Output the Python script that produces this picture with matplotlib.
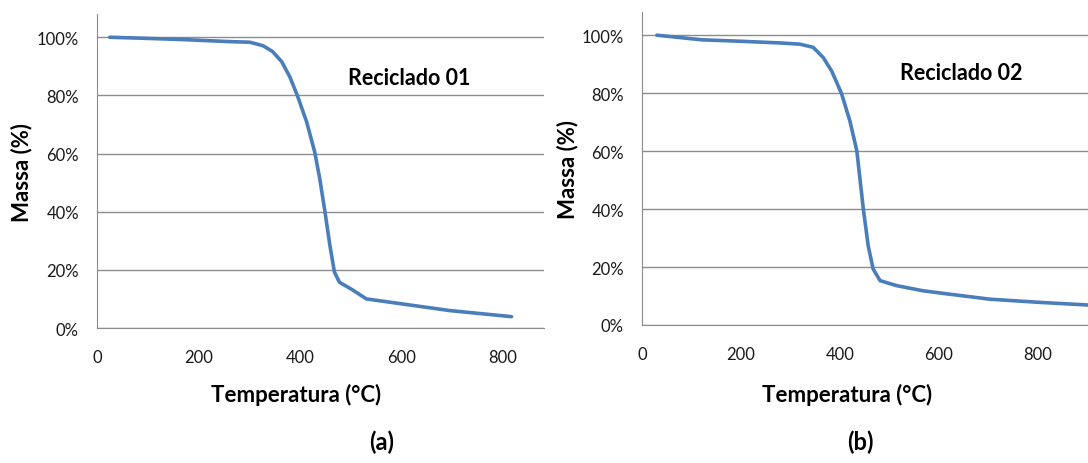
import matplotlib.pyplot as plt
from matplotlib.ticker import PercentFormatter

# curva TG - Reciclado 01
temp_01 = [25, 84, 170, 261, 301, 327, 346, 364, 380, 395, 413, 429, 439, 449, 459, 468, 478,
           501, 531, 564, 613, 695, 817]
massa_01 = [100, 99.7, 99.2, 98.5, 98.3, 97.1, 95.1, 91.6, 86.4, 79.9, 71, 60.6, 51.4, 40.3, 28.4,
            19.2, 15.7, 13.4, 10, 9.2, 8, 6, 3.9]

# curva TG - Reciclado 02
temp_02 = [30, 121, 200, 282, 319, 346, 366, 383, 403, 420, 434, 447, 457, 467, 481, 514, 568,
           618, 703, 804, 901]
massa_02 = [100, 98.4, 97.9, 97.3, 96.9, 95.8, 92.3, 87.7, 79.9, 70.4, 60.1, 40.2, 27.3, 19.3,
            15.3, 13.6, 11.8, 10.7, 8.9, 7.8, 6.9]

x_ticks = [0, 200, 400, 600, 800]
y_ticks = [0, 20, 40, 60, 80, 100]

plt.rcParams['font.family'] = ['Lato', 'DejaVu Sans']

fig = plt.figure(figsize=(10.88, 4.64), dpi=100)
W, H = 1088, 464


def painel(left, right, top, bottom, xmax, temp, massa, nome, nome_xy, ylab_x, xlab_xy, letra, letra_xy):
    ax = fig.add_axes([left / W, 1 - bottom / H, (right - left) / W, (bottom - top) / H])
    ax.plot(temp, massa, color='#4A7EBB', linewidth=2.6, solid_capstyle='round', solid_joinstyle='round')
    ax.set_xlim(0, xmax)
    ax.set_ylim(0, 108)
    ax.set_xticks(x_ticks)
    ax.set_yticks(y_ticks)
    ax.yaxis.set_major_formatter(PercentFormatter(decimals=0))
    ax.grid(axis='y', color='#8c8c8c', linewidth=1.0)
    ax.set_axisbelow(True)
    for s in ['top', 'right']:
        ax.spines[s].set_visible(False)
    ax.spines['left'].set_color('#8c8c8c')
    ax.spines['bottom'].set_color('#8c8c8c')
    ax.tick_params(length=0, labelsize=12, colors='#1a1a1a')
    ax.tick_params(axis='y', pad=13)
    ax.tick_params(axis='x', pad=15)
    ax.text(nome_xy[0], nome_xy[1], nome, fontsize=15.5, fontweight='bold', ha='center', va='center')
    fig.text(ylab_x / W, 1 - (bottom + top) / 2 / H, 'Massa (%)', rotation=90,
             fontsize=16, fontweight='bold', ha='center', va='center')
    fig.text(xlab_xy[0] / W, 1 - xlab_xy[1] / H, 'Temperatura (°C)',
             fontsize=16, fontweight='bold', ha='center', va='center')
    fig.text(letra_xy[0] / W, 1 - letra_xy[1] / H, letra, fontsize=17, fontweight='bold',
             ha='center', va='center')
    return ax


painel(97, 544, 15, 329, 881, temp_01, massa_01, 'Reciclado 01', (616, 86), 22, (296, 395),
       '(a)', (382, 442))
painel(642, 1088, 13, 326, 901, temp_02, massa_02, 'Reciclado 02', (645, 87), 568, (847, 395),
       '(b)', (860, 442))

fig.savefig('out.png', dpi=100)
